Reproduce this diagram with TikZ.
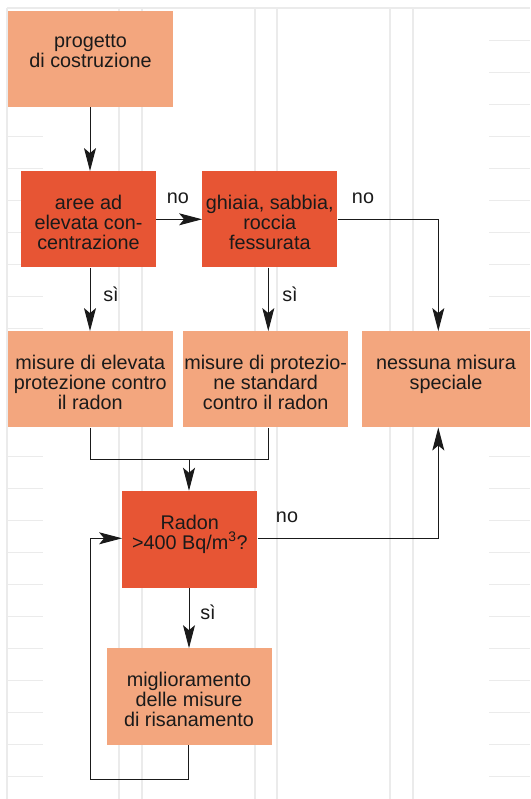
\documentclass[tikz,border=0pt]{standalone}
\usepackage{fontspec}
\setmainfont{Liberation Sans}
\usetikzlibrary{arrows.meta}
\definecolor{lightbox}{HTML}{F3A67E}
\definecolor{darkbox}{HTML}{E75534}
\definecolor{gridc}{HTML}{EBEBEB}
\definecolor{inkc}{HTML}{1A1A1A}
\begin{document}
\begin{tikzpicture}[x=1pt,y=-1pt,
  lbox/.style={rectangle,fill=lightbox,draw=none,minimum width=165pt,minimum height=96pt,inner sep=0pt},
  dbox/.style={rectangle,fill=darkbox,draw=none,minimum width=135pt,minimum height=96pt,inner sep=0pt},
  txt/.style={anchor=north,inner sep=0pt,align=center,text=inkc,font=\fontsize{19.8pt}{20.3pt}\selectfont},
  lab/.style={anchor=base,inner sep=0pt,text=inkc,font=\fontsize{19.8pt}{20.3pt}\selectfont},
  conn/.style={draw=inkc,line width=1pt},
  arr/.style={conn,-{Stealth[length=23pt,width=12pt,inset=5pt]}},
  gridl/.style={draw=gridc,line width=1.2pt}]
\useasboundingbox (0,0) rectangle (530,799);
% background grid
\draw[gridl] (7,8) -- (530,8);
\foreach \x in {7,119,142,255,277,390,413}{\draw[gridl] (\x,8) -- (\x,799);}
\foreach \k in {0,...,23}{
  \draw[gridl] (7,40.7+32*\k) -- (43,40.7+32*\k);
  \draw[gridl] (489,40.7+32*\k) -- (530,40.7+32*\k);
}
% boxes
\node[lbox] (p) at (90.5,59) {};
\node[txt] (pt) at (90.5,34.5) {progetto\\di costruzione};
\node[dbox] (a) at (88.5,219.3) {};
\node[txt] (at) at (88.5,194.5) {aree ad\\elevata con-\\centrazione};
\node[dbox] (g) at (269.8,219.3) {};
\node[txt] (gt) at (269.8,194.5) {ghiaia, sabbia,\\roccia\\fessurata};
\node[lbox] (me) at (90.3,379.3) {};
\node[txt] (met) at (90.3,354.5) {misure di elevata\\protezione contro\\il radon};
\node[lbox] (mp) at (265.7,379.3) {};
\node[txt] (mpt) at (265.7,354.5) {misure di protezio-\\ne standard\\contro il radon};
\node[lbox,minimum width=168pt] (n) at (446,379.3) {};
\node[txt] (nt) at (446,354.5) {nessuna misura\\speciale};
\node[dbox,minimum height=96.7pt] (r) at (189.8,539.3) {};
\node[txt] (rt) at (189.8,514.5) {Radon\\>400 Bq/m\textsuperscript{3}?};
\node[lbox,minimum height=96.5pt] (m) at (189,696.6) {};
\node[txt] (mt) at (189,671.5) {miglioramento\\delle misure\\di risanamento};
% labels
\node[lab] (l1) at (178,203.3) {no};
\node[lab] (l2) at (363,203.3) {no};
\node[lab] (l3) at (111,301.5) {sì};
\node[lab] (l4) at (290,301.5) {sì};
\node[lab] (l5) at (287,522.7) {no};
\node[lab] (l6) at (208,619.3) {sì};
% connector guide coordinates
\coordinate (xl) at (90,0);
\coordinate (xg) at (268.3,0);
\coordinate (yab) at (0,219.3);
\coordinate (gr) at (438.3,219.3);
\coordinate (mj) at (189,459.3);
\coordinate (mjl) at (90,459.3);
\coordinate (mjr) at (268.3,459.3);
\coordinate (rr) at (438.3,538.3);
\coordinate (lb) at (188.7,779);
\coordinate (ll) at (90,779);
\coordinate (lt) at (90,538.3);
% connectors
\draw[arr] (p.south -| xl) -- (a.north -| xl);
\draw[arr] (a.east |- yab) -- (g.west |- yab);
\draw[arr] (g.east |- gr) -- (gr) -- (gr |- n.north);
\draw[arr] (a.south -| xl) -- (me.north -| xl);
\draw[arr] (g.south -| xg) -- (mp.north -| xg);
\draw[conn] (me.south -| xl) -- (mjl) -- (mjr) -- (mp.south -| xg);
\draw[arr] (mj) -- (r.north -| mj);
\draw[arr] (r.east |- rr) -- (rr) -- (rr |- n.south);
\draw[arr] (r.south -| mj) -- (m.north -| mj);
\draw[arr] (m.south -| lb) -- (lb) -- (ll) -- (lt) -- (r.west |- lt);
\end{tikzpicture}
\end{document}
